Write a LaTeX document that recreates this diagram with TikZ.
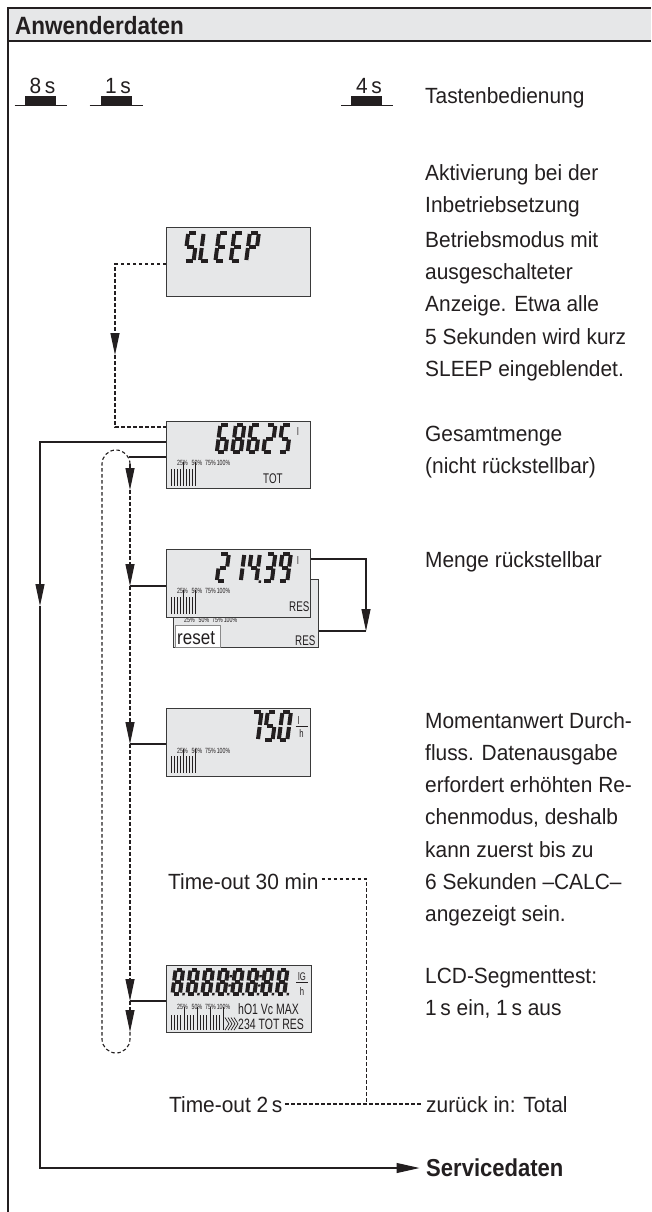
\documentclass[tikz,border=0pt]{standalone}
\usepackage{fontspec}
\setmainfont[FakeStretch=0.95]{Liberation Sans}
\newfontfamily\headfont[FakeStretch=0.9]{Liberation Sans}
\newfontfamily\lcdfont[FakeStretch=0.7]{Liberation Sans}
\newfontfamily\midfont[FakeStretch=0.85]{Liberation Sans}
\usetikzlibrary{arrows.meta,calc}
\definecolor{lcdgray}{HTML}{E6E7E8}
\definecolor{ink}{HTML}{231F20}
\definecolor{boxline}{HTML}{3A3A3A}
\definecolor{resetline}{HTML}{8A8A8A}
\newcommand\dsW{12}
\newcommand\dsH{30}
\newcommand\dsga{\draw[segline] (3.0,2.0) -- (\dsW-3.0,2.0);}
\newcommand\dsgb{\draw[segline] (\dsW-2.0,3.0) -- (\dsW-2.0,\dsH/2-1.0);}
\newcommand\dsgc{\draw[segline] (\dsW-2.0,\dsH/2+1.0) -- (\dsW-2.0,\dsH-3.0);}
\newcommand\dsgd{\draw[segline] (3.0,\dsH-2.0) -- (\dsW-3.0,\dsH-2.0);}
\newcommand\dsge{\draw[segline] (2.0,\dsH/2+1.0) -- (2.0,\dsH-3.0);}
\newcommand\dsgf{\draw[segline] (2.0,3.0) -- (2.0,\dsH/2-1.0);}
\newcommand\dsgg{\draw[segline] (3.0,\dsH/2) -- (\dsW-3.0,\dsH/2);}
\newcommand\dsg[1]{\begin{scope}[xslant=0.13]\foreach \s in {#1}{\csname dsg\s\endcsname}\end{scope}}
\tikzset{
  segline/.style={draw=ink, line width=4pt, line cap=butt},
  pics/dgS/.style={code={\dsg{a,f,g,c,d}}},
  pics/dgL/.style={code={\dsg{f,e,d}}},
  pics/dgE/.style={code={\dsg{a,f,g,e,d}}},
  pics/dgP/.style={code={\dsg{a,b,f,g,e}}},
  pics/dgzero/.style={code={\dsg{a,b,c,d,e,f}}},
  pics/dgone/.style={code={\dsg{b,c}}},
  pics/dgtwo/.style={code={\dsg{a,b,g,e,d}}},
  pics/dgthree/.style={code={\dsg{a,b,g,c,d}}},
  pics/dgfour/.style={code={\dsg{f,g,b,c}}},
  pics/dgfive/.style={code={\dsg{a,f,g,c,d}}},
  pics/dgsix/.style={code={\dsg{a,f,g,e,c,d}}},
  pics/dgseven/.style={code={\dsg{a,b,c}}},
  pics/dgeight/.style={code={\dsg{a,b,c,d,e,f,g}}},
  pics/dgnine/.style={code={\dsg{a,b,c,d,f,g}}},
  pics/dgdot/.style={code={\begin{scope}[xslant=0.13]\fill[ink] (\dsW+0.4,\dsH-2.6) rectangle ++(2.4,2.4);\end{scope}}},
  pics/dgcol/.style={code={\begin{scope}[xslant=0.13]\fill[ink] (\dsW+0.6,\dsH*0.27) rectangle ++(2.4,2.4);\fill[ink] (\dsW+0.6,\dsH*0.6) rectangle ++(2.4,2.4);\end{scope}}},
  lcdbox/.style={draw=boxline, fill=lcdgray, line width=1.2pt, inner sep=0pt, anchor=north west, rectangle},
  conn/.style={draw=ink, line width=1.1pt},
  dashconn/.style={draw=ink, line width=1.1pt, dash pattern=on 3.5pt off 2.5pt},
  tip/.style={-{Triangle[length=22pt,width=9pt]}},
  bigtip/.style={-{Triangle[length=23pt,width=10pt]}},
  txt/.style={anchor=base west, inner sep=0pt, text=ink, font=\fontsize{22}{26}\selectfont},
  lcdlbl/.style={anchor=base west, inner sep=0pt, text=ink, font=\lcdfont\fontsize{14}{14}\selectfont},
  lcdbig/.style={anchor=base west, inner sep=0pt, text=ink, font=\lcdfont\fontsize{15}{15}\selectfont},
  unit/.style={anchor=base, inner sep=0pt, text=ink, font=\lcdfont\fontsize{11}{11}\selectfont},
  pct/.style={anchor=base, inner sep=0pt, text=ink, font=\lcdfont\fontsize{7.5}{7.5}\selectfont},
  bar/.style={draw=ink, line width=0.9pt},
  btn/.style={fill=ink, inner sep=0pt, minimum width=31pt, minimum height=9pt, rectangle},
  btnlbl/.style={anchor=base, inner sep=0pt, text=ink, font=\fontsize{22}{26}\selectfont},
}
% percentage labels: #1 name prefix, #2 baseline, #3 x offset
\newcommand\pctrow[3]{%
  \node[pct] (#1a) at (182.5+#3,#2) {25\%};
  \node[pct] (#1b) at (197+#3,#2) {50\%};
  \node[pct] (#1c) at (210.5+#3,#2) {75\%};
  \node[pct] (#1d) at (223.5+#3,#2) {100\%};}
% short bar graph: #1 box top
\newcommand\shortbars[1]{%
  \foreach \i in {0,...,8} {\draw[bar] ({171+\i*3.05},{#1+48}) -- ++(0,17);}
  \draw[bar] ({171+4*3.05},{#1+41}) -- ++(0,8);
  \draw[bar] ({171+8*3.05},{#1+41}) -- ++(0,8);}
\begin{document}
\begin{tikzpicture}[x=1pt,y=-1pt]
\useasboundingbox (0,0) rectangle (651,1212);
\fill[white] (0,0) rectangle (651,1212);
% frame
\fill[lcdgray] (8,8) rectangle (651,41);
\draw[ink, line width=1.3pt] (8,41) -- (651,41);
\draw[ink, line width=2pt] (8,1212) -- (8,8) -- (651,8);
\node[anchor=base west, inner sep=0pt, text=ink, font=\headfont\fontsize{25}{26}\bfseries] (title) at (15,35) {Anwenderdaten};
% buttons
\node[btn] (b8) at (40.5,100.2) {};
\node[btn] (b1) at (116.7,100.2) {};
\node[btn] (b4) at (366.7,100.2) {};
\draw[ink, line width=1.2pt] (14.6,105.3) -- (66.7,105.3);
\draw[ink, line width=1.2pt] (89.6,105.3) -- (143,105.3);
\draw[ink, line width=1.2pt] (341,105.3) -- (393,105.3);
\node[btnlbl] (l8) at (42.5,93.5) {8\,s};
\node[btnlbl] (l1) at (118,93.5) {1\,s};
\node[btnlbl] (l4) at (369,93.5) {4\,s};
% right column texts
\node[txt] (tb) at (425,104) {Tastenbedienung};
\node[txt] (ak1) at (425,180) {Aktivierung bei der};
\node[txt] (ak2) at (425,212.5) {Inbetriebsetzung};
\node[txt] (bm1) at (425,247) {Betriebsmodus mit};
\node[txt] (bm2) at (425,279.3) {ausgeschalteter};
\node[txt] (bm3) at (425,311.7) {Anzeige. Etwa alle};
\node[txt] (bm4) at (425,344) {5 Sekunden wird kurz};
\node[txt] (bm5) at (425,376.5) {SLEEP eingeblendet.};
\node[txt] (gm1) at (425,441) {Gesamtmenge};
\node[txt] (gm2) at (425,473) {(nicht rückstellbar)};
\node[txt] (mr) at (425,567.7) {Menge rückstellbar};
\node[txt] (mw1) at (425,728.3) {Momentanwert Durch-};
\node[txt] (mw2) at (425,760.5) {fluss. Datenausgabe};
\node[txt] (mw3) at (425,792.7) {erfordert erhöhten Re-};
\node[txt] (mw4) at (425,824.9) {chenmodus, deshalb};
\node[txt] (mw5) at (425,857.1) {kann zuerst bis zu};
\node[txt] (mw6) at (425,889.3) {6 Sekunden –CALC–};
\node[txt] (mw7) at (425,921.5) {angezeigt sein.};
\node[txt] (lc1) at (425,983) {LCD-Segmenttest:};
\node[txt] (lc2) at (425,1015.5) {1\,s ein, 1\,s aus};
\node[txt] (to30) at (168,889) {Time-out 30 min};
\node[txt] (to2) at (169,1112) {Time-out 2\,s};
\node[txt] (zur) at (426,1112) {zurück in: Total};
\node[anchor=base west, inner sep=0pt, text=ink, font=\headfont\fontsize{24.5}{26}\bfseries] (svc) at (426,1176) {Servicedaten};
% ---------- SLEEP display
\node[lcdbox, minimum width=144pt, minimum height=69pt] (sleep) at (166,227) {};
\renewcommand\dsW{13}\renewcommand\dsH{32}
\pic at (186.5,231) {dgS};
\pic at (201.9,231) {dgL};
\pic at (217.3,231) {dgE};
\pic at (232.7,231) {dgE};
\pic at (248.1,231) {dgP};
% ---------- TOT display
\node[lcdbox, minimum width=144pt, minimum height=67pt] (tot) at (166,421) {};
\renewcommand\dsW{12.5}\renewcommand\dsH{31}
\pic at (218.6,423) {dgsix};
\pic at (234.1,423) {dgeight};
\pic at (249.6,423) {dgsix};
\pic at (265.1,423) {dgtwo};
\pic at (280.6,423) {dgfive};
\node[unit] (totu) at (298,435) {l};
\pctrow{pt}{465}{0}
\shortbars{421}
\node[lcdlbl] (totl) at (263,483) {TOT};
% ---------- RES back display
\node[lcdbox, minimum width=145pt, minimum height=68pt] (resb) at (173,579) {};
\pctrow{pb}{622}{7}
\node[draw=resetline, fill=white, line width=0.9pt, minimum width=45.5pt, minimum height=21.5pt, inner sep=0pt, anchor=north west] (rst) at (174.5,625) {};
\node[anchor=base west, inner sep=0pt, text=ink, font=\midfont\fontsize{20}{20}\selectfont] (rstl) at (177,644) {reset};
\node[lcdlbl] (resbl) at (295,645) {RES};
% ---------- RES display
\node[lcdbox, minimum width=144pt, minimum height=68pt] (res) at (166,549) {};
\pic at (218.6,552) {dgtwo};
\pic at (234.1,552) {dgone};
\pic at (249.6,552) {dgfour};
\pic at (249.6,552) {dgdot};
\pic at (265.1,552) {dgthree};
\pic at (280.6,552) {dgnine};
\node[unit] (resu) at (298,564) {l};
\pctrow{pr}{593}{0}
\shortbars{549}
\node[lcdlbl] (resl) at (289,611) {RES};
% ---------- flow display
\node[lcdbox, minimum width=144pt, minimum height=68pt] (flow) at (166,708) {};
\renewcommand\dsW{12.5}\renewcommand\dsH{32}
\pic at (251.3,710) {dgseven};
\pic at (266,710) {dgfive};
\pic at (280.7,710) {dgzero};
\node[unit] (flu) at (298.5,724) {l};
\draw[ink, line width=0.8pt] (295.5,726) -- (307.5,726);
\node[unit] (flh) at (301.5,737.3) {h};
\pctrow{pf}{753}{0}
\shortbars{708}
% ---------- LCD segment test display
\node[lcdbox, minimum width=145pt, minimum height=67pt] (lcd) at (166,965) {};
\renewcommand\dsW{11.5}\renewcommand\dsH{28}
\foreach \k in {0,...,7} {
  \pic at ({173.9+\k*14.9},967.5) {dgeight};
  \pic at ({173.9+\k*14.9},967.5) {dgdot};
}
\pic at ({173.9+3*14.9},967.5) {dgcol};
\pic at ({173.9+5*14.9},967.5) {dgcol};
\node[unit] (lcdu) at (302,980) {lG};
\draw[ink, line width=0.8pt] (296,982.5) -- (307.5,982.5);
\node[unit] (lcdh) at (302,995) {h};
\pctrow{pl}{1009}{0}
\foreach \i in {0,...,16} {\draw[bar] ({171+\i*3.25},1015) -- ++(0,15);}
\foreach \i in {4,8,...,16} {\draw[bar] ({171+\i*3.25},1007) -- ++(0,9);}
\foreach \i in {0,...,3} {\draw[ink, line width=0.7pt] ({225+\i*3},1017.5) -- ++(4,6.3) -- ++(-4,6.3);}
\node[lcdbig] (lcdl1) at (238,1014.5) {hO1 Vc MAX};
\node[lcdbig] (lcdl2) at (238,1029) {234 TOT RES};
% ---------- connectors
% sleep -> tot (dashed)
\coordinate (s1) at (115,264);
\coordinate (s2) at (115,355);
\coordinate (s3) at (115,427);
\draw[dashconn,tip] (sleep.west |- s1) -- (s1) -- (s2);
\draw[dashconn] (s2) -- (s3) -- (tot.west |- s3);
% main solid line to Servicedaten
\coordinate (m1) at (40,442);
\coordinate (m2) at (40,606);
\coordinate (m3) at (40,1168);
\draw[conn,tip] (tot.west |- m1) -- (m1) -- (m2);
\draw[conn,bigtip,shorten >=6.5pt] (m2) -- (m3) -- (svc.west |- m3);
% dashed loop
\coordinate (rT) at (130,464);
\coordinate (lB) at (102,1039);
\coordinate (a1) at (130,490);
\coordinate (a2) at (130,586);
\coordinate (a3) at (130,744);
\coordinate (a4) at (130,1001);
\coordinate (a5) at (130,1032);
\coordinate (tj) at (129,457);
\draw[dashconn] (rT) arc[start angle=0,end angle=180,radius=14pt] -- (lB) arc[start angle=180,end angle=360,radius=14pt] -- (a5);
\draw[dashconn,tip] (rT) -- (a1);
\draw[dashconn,tip] (a1) -- (a2);
\draw[dashconn,tip] (a2) -- (a3);
\draw[dashconn,tip] (a3) -- (a4);
\draw[dashconn,tip] (a4) -- (a5);
\draw[conn] (tot.west |- tj) -- (tj);
\draw[conn] (a2) -- (res.west |- a2);
\draw[conn] (a3) -- (flow.west |- a3);
\draw[conn] (a4) -- (lcd.west |- a4);
% reset loop
\coordinate (r1) at (366,559);
\coordinate (r2) at (366,631);
\draw[conn,tip] (res.east |- r1) -- (r1) -- (r2);
\draw[conn] (r2) -- (resb.east |- r2);
% time-outs
\coordinate (jA) at (366.5,879);
\coordinate (jB) at (366.5,1104);
\draw[dashconn,shorten <=3pt] (to30.east |- jA) -- (jA) -- (jB);
\draw[dashconn,shorten <=2.5pt,shorten >=5pt] (to2.east |- jB) -- (zur.west |- jB);
\end{tikzpicture}
\end{document}
